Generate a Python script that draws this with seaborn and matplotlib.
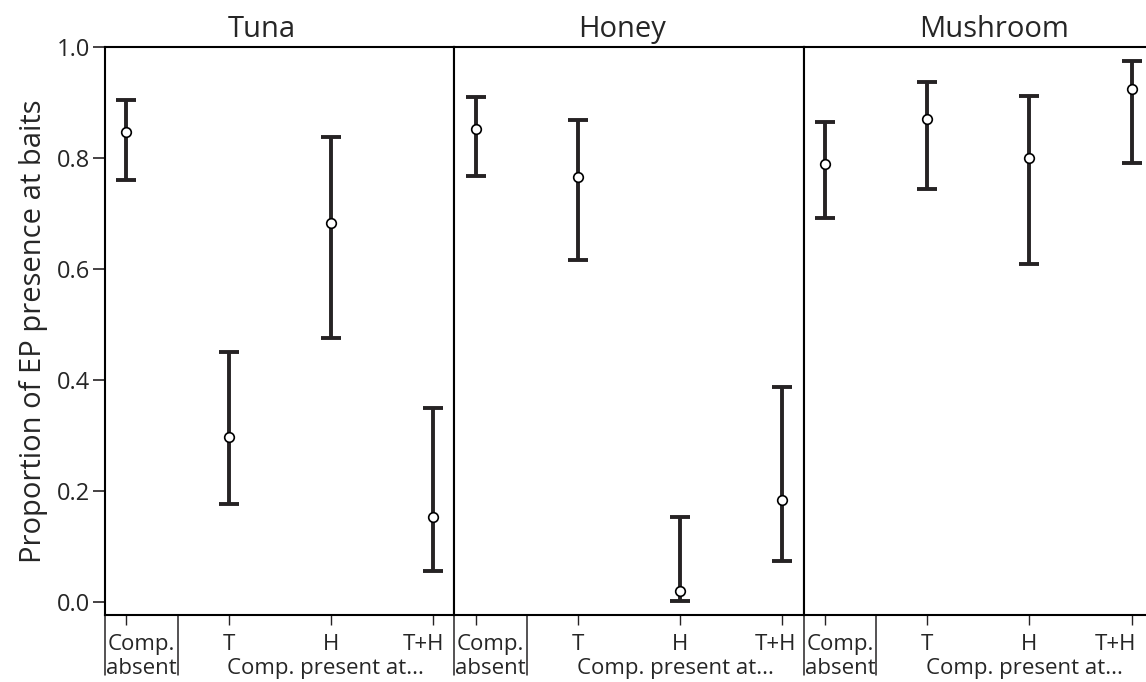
import matplotlib
matplotlib.use("Agg")
import matplotlib.pyplot as plt
import matplotlib.transforms as mtransforms
import numpy as np
import pandas as pd
import seaborn as sns

baits = ["Tuna", "Honey", "Mushroom"]
groups = ["Comp. absent", "T", "H", "T+H"]

tuna_prop = [0.846, 0.297, 0.682, 0.153]
tuna_lo = [0.760, 0.177, 0.475, 0.056]
tuna_hi = [0.904, 0.451, 0.837, 0.349]

honey_prop = [0.852, 0.766, 0.020, 0.184]
honey_lo = [0.768, 0.616, 0.002, 0.074]
honey_hi = [0.910, 0.868, 0.153, 0.388]

mushroom_prop = [0.790, 0.870, 0.800, 0.925]
mushroom_lo = [0.691, 0.745, 0.609, 0.791]
mushroom_hi = [0.864, 0.937, 0.912, 0.975]

yticks = [0.0, 0.2, 0.4, 0.6, 0.8, 1.0]

df = pd.concat(
    [
        pd.DataFrame({"bait": b, "group": groups, "prop": p, "lo": lo, "hi": hi})
        for b, p, lo, hi in [
            ("Tuna", tuna_prop, tuna_lo, tuna_hi),
            ("Honey", honey_prop, honey_lo, honey_hi),
            ("Mushroom", mushroom_prop, mushroom_lo, mushroom_hi),
        ]
    ],
    ignore_index=True,
)

sns.set_theme(style="ticks")
plt.rcParams["font.family"] = ["Open Sans", "DejaVu Sans"]
ink = "#262324"

fig, axes = plt.subplots(1, 3, figsize=(11.46, 6.82), dpi=100, sharey=True)
fig.subplots_adjust(left=105 / 1146, right=1153 / 1146,
                    top=1 - 47 / 682, bottom=1 - 615 / 682, wspace=0)

title_x = [0.45, 0.48, 0.546]
last_shift = [0.09, 0.07, 0.16]  # T+H label sits a bit left of its tick
y1, y2 = -0.062, -0.104
fs = 16

for i, (ax, bait) in enumerate(zip(axes, baits)):
    sub = df[df["bait"] == bait].reset_index(drop=True)
    pos = np.arange(len(sub))
    ax.errorbar(pos, sub["prop"],
                yerr=[sub["prop"] - sub["lo"], sub["hi"] - sub["prop"]],
                fmt="none", ecolor=ink, elinewidth=2.8,
                capsize=7.5, capthick=2.8, zorder=2)
    sns.scatterplot(x=pos, y=sub["prop"], ax=ax, marker="o", s=48,
                    color="white", edgecolor="black", linewidth=1.2,
                    zorder=3, legend=False)

    ax.set_xlim(-0.21, 3.21)
    ax.set_ylim(-0.0234, 1.0)
    ax.set_xticks(pos)
    ax.set_xticklabels([])
    ax.tick_params(axis="x", length=7, width=1, color=ink)
    ax.set_xlabel("")
    for sp in ax.spines.values():
        sp.set_color("black")
        sp.set_linewidth(1.5)
    ax.set_title(bait, fontsize=21, x=title_x[i], pad=7)

    # labels under the axis
    trans = mtransforms.blended_transform_factory(ax.transData, ax.transAxes)
    first, rest = sub["group"][0].split(" ")
    ax.text(0.145, y1, first, transform=trans, ha="center", va="baseline", fontsize=fs)
    ax.text(0.145, y2, rest, transform=trans, ha="center", va="baseline", fontsize=fs)
    for p, g in zip(pos[1:], sub["group"][1:]):
        xp = p - last_shift[i] if p == pos[-1] else p
        ax.text(xp, y1, g, transform=trans, ha="center", va="baseline", fontsize=fs)
    ax.text(1.95, y2, "Comp. present at...", transform=trans, ha="center",
            va="baseline", fontsize=fs)
    for xs in [-0.21, 0.5]:
        ax.plot([xs, xs], [0, -0.106], transform=trans, clip_on=False,
                color=ink, lw=1.1)

    if i == 0:
        ax.set_yticks(yticks)
        ax.set_yticklabels([f"{t:.1f}" for t in yticks], fontsize=17)
        ax.tick_params(axis="y", length=9, width=1.2, color=ink, pad=2)
        ax.set_ylabel("Proportion of EP presence at baits", fontsize=21, labelpad=6)
    else:
        ax.tick_params(axis="y", left=False)
        ax.set_ylabel("")

fig.savefig("out.png", dpi=100)
